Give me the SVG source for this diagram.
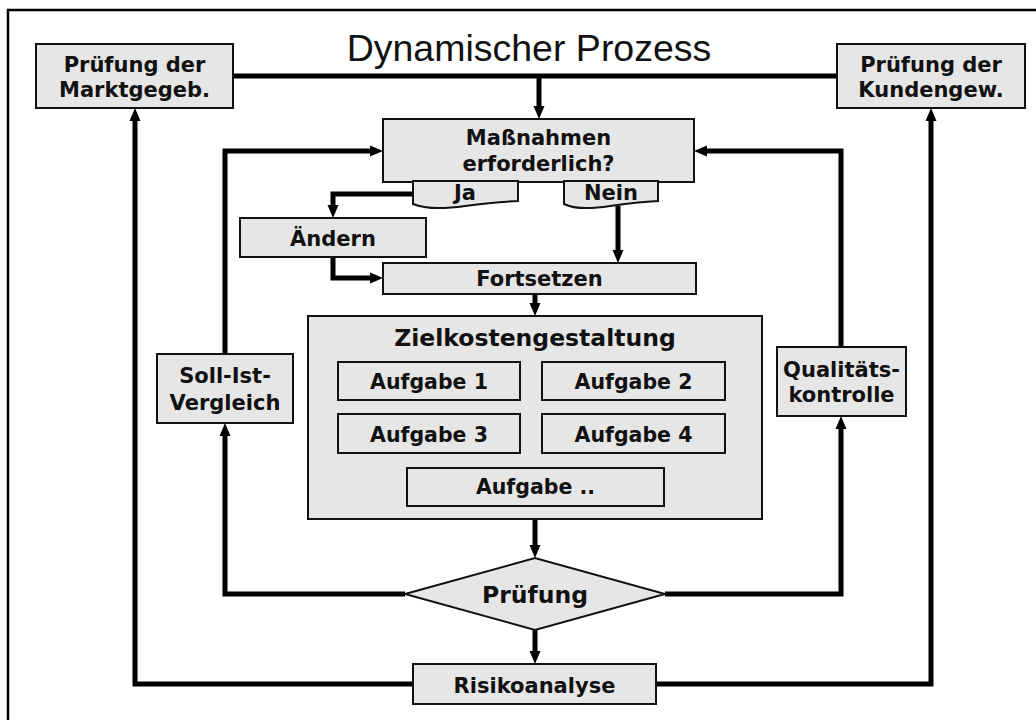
<svg xmlns="http://www.w3.org/2000/svg" width="1036" height="720" viewBox="0 0 1036 720">
  <style>
    .box { fill: #e6e6e6; stroke: #111; stroke-width: 2; }
    .t { font-family: "DejaVu Sans", "Liberation Sans", Verdana, sans-serif; font-weight: bold; font-size: 21px; fill: #111; text-anchor: middle; }
    .big { font-size: 23.5px; }
    .sm { font-size: 20.5px; }
    .title { font-family: "Liberation Sans", Arial, sans-serif; font-size: 37.5px; fill: #111; text-anchor: middle; }
    .c { fill: none; stroke: #000; stroke-width: 5; stroke-linejoin: miter; stroke-linecap: butt; }
    .frame { fill: none; stroke: #000; stroke-width: 2.5; }
  </style>
  <defs>
    <marker id="ah" markerUnits="userSpaceOnUse" markerWidth="14" markerHeight="12" refX="0" refY="5.5" orient="auto" overflow="visible">
      <path d="M0,0 L13,5.5 L0,11 Z" fill="#000"/>
    </marker>
  </defs>
  <rect width="1036" height="720" fill="#fff"/>
  <path class="frame" d="M8,730 V10 H1046"/>
  <text class="title" x="529" y="61">Dynamischer Prozess</text>

  <g id="connectors">
    <path class="c" d="M233,76 H837"/>
    <path class="c" d="M539,76 V106" marker-end="url(#ah)"/>
    <path class="c" d="M413,684 H135 V121" marker-end="url(#ah)"/>
    <path class="c" d="M656,684 H931 V121" marker-end="url(#ah)"/>
    <path class="c" d="M405,594 H225 V436" marker-end="url(#ah)"/>
    <path class="c" d="M225,354 V151 H370" marker-end="url(#ah)"/>
    <path class="c" d="M665,594 H841 V429" marker-end="url(#ah)"/>
    <path class="c" d="M841,347 V151 H707" marker-end="url(#ah)"/>
    <path class="c" d="M413,194 H333 V205" marker-end="url(#ah)"/>
    <path class="c" d="M333,257 V278 H370" marker-end="url(#ah)"/>
    <path class="c" d="M618,206 V250" marker-end="url(#ah)"/>
    <path class="c" d="M535,294 V303" marker-end="url(#ah)"/>
    <path class="c" d="M535,519 V545" marker-end="url(#ah)"/>
    <path class="c" d="M535,630 V651" marker-end="url(#ah)"/>
  </g>

  <g id="markt">
    <rect class="box" x="36" y="44" width="197" height="64"/>
    <text class="t" x="134.5" y="71.5">Prüfung der</text>
    <text class="t" x="134.5" y="96.5">Marktgegeb.</text>
  </g>
  <g id="kunden">
    <rect class="box" x="837" y="44" width="188" height="64"/>
    <text class="t" x="931" y="71.5">Prüfung der</text>
    <text class="t" x="931" y="96.5">Kundengew.</text>
  </g>
  <g id="massnahmen">
    <rect class="box" x="383" y="119" width="311" height="63"/>
    <text class="t" x="538.5" y="145">Maßnahmen</text>
    <text class="t" x="538.5" y="171">erforderlich?</text>
  </g>
  <g id="ja">
    <path class="box" d="M413,181 H518 V201 Q495,202 465,206 Q430,211 413,204 Z"/>
    <text class="t" x="465" y="200">Ja</text>
  </g>
  <g id="nein">
    <path class="box" d="M564,181 H658 V201 Q637,202 610,206 Q578,211 564,204 Z"/>
    <text class="t" x="611" y="200">Nein</text>
  </g>
  <g id="aendern">
    <rect class="box" x="240" y="218" width="186" height="39"/>
    <text class="t" x="333" y="246">Ändern</text>
  </g>
  <g id="fortsetzen">
    <rect class="box" x="383" y="263" width="313" height="31"/>
    <text class="t" x="539.5" y="285.5">Fortsetzen</text>
  </g>
  <g id="zielkosten">
    <rect class="box" x="308" y="316" width="454" height="203"/>
    <text class="t big" x="535" y="345.5">Zielkostengestaltung</text>
  </g>
  <g id="aufgabe1">
    <rect class="box" x="338" y="362" width="182" height="38"/>
    <text class="t sm" x="429" y="389">Aufgabe 1</text>
  </g>
  <g id="aufgabe2">
    <rect class="box" x="542" y="362" width="183" height="38"/>
    <text class="t sm" x="633.5" y="389">Aufgabe 2</text>
  </g>
  <g id="aufgabe3">
    <rect class="box" x="338" y="414" width="182" height="39"/>
    <text class="t sm" x="429" y="441.5">Aufgabe 3</text>
  </g>
  <g id="aufgabe4">
    <rect class="box" x="542" y="414" width="183" height="39"/>
    <text class="t sm" x="633.5" y="441.5">Aufgabe 4</text>
  </g>
  <g id="aufgabeN">
    <rect class="box" x="407" y="468" width="257" height="38"/>
    <text class="t sm" x="535.5" y="494">Aufgabe ..</text>
  </g>
  <g id="sollist">
    <rect class="box" x="157" y="354" width="136" height="69"/>
    <text class="t" x="225" y="383">Soll-Ist-</text>
    <text class="t" x="225" y="410">Vergleich</text>
  </g>
  <g id="qualitaet">
    <rect class="box" x="777" y="347" width="129" height="69"/>
    <text class="t" x="841.5" y="377">Qualitäts-</text>
    <text class="t" x="841.5" y="401.5">kontrolle</text>
  </g>
  <g id="pruefung">
    <polygon class="box" points="405,594 535,558 665,594 535,630"/>
    <text class="t big" x="535" y="603">Prüfung</text>
  </g>
  <g id="risiko">
    <rect class="box" x="413" y="664" width="243" height="40"/>
    <text class="t" x="534.5" y="693">Risikoanalyse</text>
  </g>
</svg>
